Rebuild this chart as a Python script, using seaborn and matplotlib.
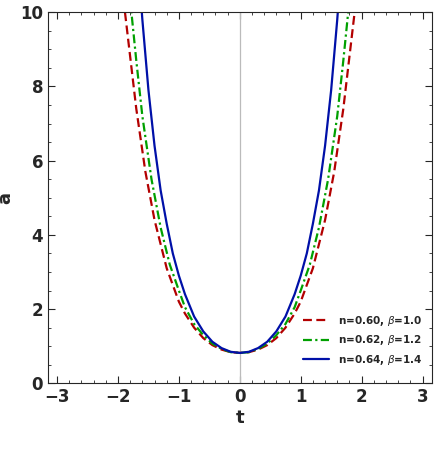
import numpy as np
import pandas as pd
import seaborn as sns
import matplotlib.pyplot as plt

# values (right half, curves are symmetric in t)
t_blue = [0, 0.15, 0.3, 0.45, 0.6, 0.75, 0.9, 1.0, 1.1, 1.2, 1.3, 1.4, 1.5, 1.6, 1.65]
a_blue = [0.82, 0.85, 0.95, 1.12, 1.4, 1.8, 2.4, 2.9, 3.5, 4.3, 5.2, 6.4, 7.9, 9.8, 10.9]
t_green = [0, 0.15, 0.3, 0.45, 0.6, 0.75, 0.9, 1.0, 1.15, 1.3, 1.45, 1.6, 1.7, 1.78, 1.82]
a_green = [0.82, 0.84, 0.93, 1.07, 1.3, 1.6, 2.05, 2.5, 3.2, 4.2, 5.5, 7.2, 8.7, 10.0, 10.8]
t_red = [0, 0.15, 0.3, 0.45, 0.6, 0.75, 0.9, 1.0, 1.2, 1.4, 1.55, 1.7, 1.8, 1.9, 1.95]
a_red = [0.82, 0.84, 0.91, 1.03, 1.22, 1.5, 1.88, 2.2, 3.1, 4.4, 5.7, 7.4, 8.8, 10.2, 11.0]

labels = ["n=0.60, $\\beta$=1.0", "n=0.62, $\\beta$=1.2", "n=0.64, $\\beta$=1.4"]
colors = ["#b30000", "#00a000", "#0010a8"]
styles = [(0, (4, 2)), (0, (4, 1.5, 1, 1.5)), "-"]


def mirrored(t, a):
    t = np.array(t)
    a = np.array(a)
    return np.concatenate([-t[::-1], t[1:]]), np.concatenate([a[::-1], a[1:]])


sns.set_style("ticks")
fig, ax = plt.subplots(figsize=(4.36, 4.51), dpi=100)
ax.axvline(0, color="#bbbbbb", lw=0.9)
for (t, a), lab, c, ls in zip([(t_red, a_red), (t_green, a_green), (t_blue, a_blue)],
                              labels, colors, styles):
    x, y = mirrored(t, a)
    df = pd.DataFrame({"t": x, "a": y})
    sns.lineplot(data=df, x="t", y="a", ax=ax, color=c, lw=1.6, label=lab,
                 sort=False)
    ax.lines[-1].set_linestyle(ls)

ax.set_xlim(-3.15, 3.15)
ax.set_ylim(0, 10)
ax.set_xticks([-3, -2, -1, 0, 1, 2, 3])
ax.set_yticks([0, 2, 4, 6, 8, 10])
ax.set_xticks(np.arange(-3, 3.01, 0.2), minor=True)
ax.set_yticks(np.arange(0, 10.01, 0.5), minor=True)
ax.tick_params(direction="in", top=True, right=True, labelsize=12, length=5)
ax.tick_params(which="minor", direction="in", top=True, right=True, length=2.5)
for lab in ax.get_xticklabels() + ax.get_yticklabels():
    lab.set_fontweight("bold")
ax.set_xlabel("t", fontsize=13, fontweight="bold", labelpad=2)
ax.set_ylabel("a", fontsize=13, fontweight="bold", labelpad=4)
ax.legend(loc="lower right", frameon=False, prop={"size": 7.5, "weight": "bold"},
          handlelength=2.5, bbox_to_anchor=(1.0, 0.02))
plt.subplots_adjust(left=0.11, right=0.99, bottom=0.15, top=0.973)
fig.savefig("out.png")
